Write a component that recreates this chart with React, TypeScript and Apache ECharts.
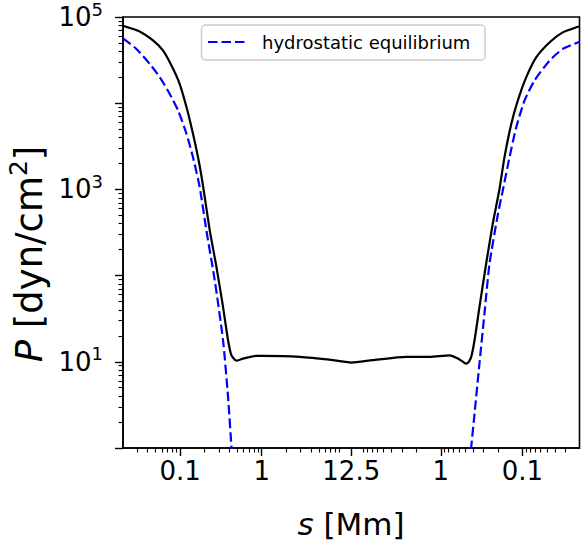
import React, { useEffect, useRef } from "react";
import * as echarts from "echarts";

// Loop geometry (Mm)
const APEX_S = 12.5;
const FOOT_S = 0.02;

// Simulated pressure, left leg: distance from left footpoint s [Mm], P [dyn/cm^2]
const blackLeftS = [0.02, 0.032, 0.047, 0.062, 0.0785, 0.099, 0.12, 0.144, 0.172, 0.195, 0.231, 0.279, 0.336, 0.387, 0.426, 0.49, 0.59, 0.861, 1.04, 2.92, 7.46, 11.9, 12.5];
const blackLeftP = [79200, 68000, 53100, 40700, 27300, 16700, 8970, 4410, 1980, 972, 335, 126, 43.3, 17.8, 11.9, 10.3, 10.9, 11.7, 11.7, 11.4, 10.45, 9.83, 9.8];
// Simulated pressure, right leg: distance from right footpoint, apex -> footpoint
const blackRightS = [6.84, 2.65, 1.37, 0.782, 0.618, 0.534, 0.49, 0.457, 0.424, 0.386, 0.336, 0.278, 0.231, 0.191, 0.166, 0.137, 0.114, 0.09, 0.0679, 0.0467, 0.0321, 0.021, 0.02];
const blackRightP = [10.45, 11.4, 11.4, 11.85, 10.9, 9.98, 9.5, 9.9, 11.4, 17.8, 43.3, 138, 400, 1010, 2360, 5750, 10700, 19900, 34000, 50700, 66300, 77100, 77600];

// Hydrostatic equilibrium, left leg
const hydroLeftS = [0.02, 0.0292, 0.0426, 0.0565, 0.0748, 0.0946, 0.12, 0.144, 0.174, 0.21, 0.266, 0.336, 0.387, 0.426, 0.43];
const hydroLeftP = [56400, 42600, 28500, 19950, 12800, 8210, 4410, 2360, 1062, 335, 88.2, 17.8, 3.93, 1.03, 0.95];
// Hydrostatic equilibrium, right leg (distance from right footpoint)
const hydroRightS = [0.43, 0.424, 0.386, 0.336, 0.292, 0.253, 0.199, 0.174, 0.144, 0.119, 0.0944, 0.0713, 0.0467, 0.0321, 0.021, 0.02];
const hydroRightP = [0.95, 1.03, 2.52, 9.57, 36.3, 138, 526, 972, 2360, 5260, 10700, 18270, 31100, 42600, 50700, 51500];

// Axis ticks
const xTickDist = [0.1, 1, 12.5, 1, 0.1];
const xTickLeg = ["L", "L", "L", "R", "R"];
const xTickLabels = ["0.1", "1", "12.5", "1", "0.1"];
const xMinorMantissas = [2, 3, 4, 5, 6, 7, 8, 9];
const xMinorDecades = [0.01, 0.1, 1];
const yMajorTicks = [1, 10, 100, 1000, 10000, 100000];
const yLabelTicks = [10, 1000, 100000];
const yMinorMantissas = [2, 3, 4, 5, 6, 7, 8, 9];
const yMinorDecades = [1, 10, 100, 1000, 10000];

const FONT = "DejaVu Sans";
const DASH = [9.5, 4];
const A = Math.log10(APEX_S);
const pos = (s: number, leg: string) => (leg === "R" ? 2 * A - Math.log10(s) : Math.log10(s));

export default function App() {
  const ref = useRef<HTMLDivElement>(null);
  useEffect(() => {
    document.body.style.margin = "0";
    if (!ref.current) return;
    const chart = echarts.init(ref.current, undefined, { renderer: "svg" });

    const blackData = [
      ...blackLeftS.map((s, i) => [pos(s, "L"), blackLeftP[i]]),
      ...blackRightS.map((s, i) => [pos(s, "R"), blackRightP[i]]),
    ];
    const hydroLeft = hydroLeftS.map((s, i) => [pos(s, "L"), hydroLeftP[i]]);
    const hydroRight = hydroRightS.map((s, i) => [pos(s, "R"), hydroRightP[i]]);

    const xMajorPos = xTickDist.map((s, i) => pos(s, xTickLeg[i]));
    const xMinorPos: number[] = [];
    for (const leg of ["L", "R"]) {
      for (const d of xMinorDecades) {
        for (const m of xMinorMantissas) {
          const s = m * d;
          if (s > FOOT_S && s < APEX_S) xMinorPos.push(pos(s, leg));
        }
      }
    }
    const yMinor: number[] = [];
    for (const d of yMinorDecades) for (const m of yMinorMantissas) yMinor.push(m * d);

    const xMin = pos(FOOT_S, "L");
    const xMax = pos(FOOT_S, "R");

    const xFormatter = (v: number) => {
      let best = 0;
      for (let i = 1; i < xMajorPos.length; i++) {
        if (Math.abs(xMajorPos[i] - v) < Math.abs(xMajorPos[best] - v)) best = i;
      }
      return xTickLabels[best];
    };

    const option: any = {
      animation: false,
      backgroundColor: "#ffffff",
      grid: {
        left: 123,
        top: 15,
        right: 1.5,
        bottom: 96,
        show: true,
        borderColor: "#000",
        borderWidth: 1.6,
        backgroundColor: "transparent",
      },
      xAxis: [
        {
          type: "value",
          min: xMin,
          max: xMax,
          position: "bottom",
          axisLine: { show: true, onZero: false, lineStyle: { color: "#000", width: 1.6 } },
          axisTick: { show: true, customValues: xMajorPos, length: 8, lineStyle: { color: "#000", width: 1.4 } },
          axisLabel: {
            customValues: xMajorPos,
            formatter: xFormatter,
            margin: 10,
            fontSize: 26,
            fontFamily: FONT,
            color: "#000",
          },
          splitLine: { show: false },
        },
        {
          type: "value",
          min: xMin,
          max: xMax,
          position: "bottom",
          axisLine: { show: false, onZero: false },
          axisTick: { show: true, customValues: xMinorPos, length: 4.5, lineStyle: { color: "#000", width: 1.1 } },
          axisLabel: { show: false },
          splitLine: { show: false },
        },
      ],
      yAxis: [
        {
          type: "log",
          logBase: 10,
          min: 1,
          max: 100000,
          position: "left",
          axisLine: { show: true, onZero: false, lineStyle: { color: "#000", width: 1.6 } },
          axisTick: { show: true, customValues: yMajorTicks, length: 8, lineStyle: { color: "#000", width: 1.4 } },
          axisLabel: {
            customValues: yLabelTicks,
            margin: 20,
            formatter: (v: number) => `{b|10}{e|${Math.round(Math.log10(v))}}`,
            rich: {
              b: { fontSize: 26, fontFamily: FONT, color: "#000", lineHeight: 34 },
              e: { fontSize: 18, fontFamily: FONT, color: "#000", lineHeight: 14, verticalAlign: "top" },
            },
          },
          splitLine: { show: false },
        },
        {
          type: "log",
          logBase: 10,
          min: 1,
          max: 100000,
          position: "left",
          axisLine: { show: false, onZero: false },
          axisTick: { show: true, customValues: yMinor, length: 4.5, lineStyle: { color: "#000", width: 1.1 } },
          axisLabel: { show: false },
          splitLine: { show: false },
        },
      ],
      series: [
        {
          type: "line",
          name: "P",
          data: blackData,
          xAxisIndex: 0,
          yAxisIndex: 0,
          symbol: "none",
          smooth: 0.2,
          clip: true,
          lineStyle: { color: "#000", width: 2.2 },
          z: 3,
        },
        {
          type: "line",
          name: "hydrostatic equilibrium",
          data: hydroLeft,
          xAxisIndex: 0,
          yAxisIndex: 0,
          symbol: "none",
          smooth: 0.2,
          clip: true,
          lineStyle: { color: "#0000ff", width: 2.2, type: DASH },
          z: 4,
        },
        {
          type: "line",
          name: "hydrostatic equilibrium",
          data: hydroRight,
          xAxisIndex: 0,
          yAxisIndex: 0,
          symbol: "none",
          smooth: 0.2,
          clip: true,
          lineStyle: { color: "#0000ff", width: 2.2, type: DASH },
          z: 4,
        },
      ],
      graphic: [
        {
          type: "rect",
          z: 100,
          shape: { x: 201.5, y: 25, width: 283.5, height: 35, r: 4 },
          style: { fill: "rgba(255,255,255,0.8)", stroke: "#cccccc", lineWidth: 1.5 },
        },
        {
          type: "line",
          z: 101,
          shape: { x1: 208, y1: 42, x2: 245, y2: 42 },
          style: { stroke: "#0000ff", lineWidth: 2.2, lineDash: DASH },
        },
        {
          type: "text",
          z: 101,
          x: 262,
          y: 42,
          style: {
            text: "hydrostatic equilibrium",
            font: `18px "${FONT}"`,
            fill: "#000",
            align: "left",
            verticalAlign: "middle",
          },
        },
        {
          type: "text",
          z: 101,
          x: 351,
          y: 524,
          style: {
            text: "{i|s} [Mm]",
            font: `31px "${FONT}"`,
            fill: "#000",
            align: "center",
            verticalAlign: "middle",
            rich: {
              i: { fontStyle: "italic", fontSize: 31, fontFamily: FONT },
            },
          },
        },
        {
          type: "text",
          z: 101,
          x: 29,
          y: 254,
          rotation: Math.PI / 2,
          style: {
            text: "{i|P} [dyn/cm{s|2}]",
            font: `37px "${FONT}"`,
            fill: "#000",
            align: "center",
            verticalAlign: "middle",
            rich: {
              i: { fontStyle: "italic", fontSize: 37, fontFamily: FONT, lineHeight: 46 },
              s: { fontSize: 25, fontFamily: FONT, lineHeight: 20, verticalAlign: "top" },
            },
          },
        },
      ],
    };
    chart.setOption(option);
    return () => chart.dispose();
  }, []);
  return <div ref={ref} style={{ width: 581, height: 544 }} />;
}
